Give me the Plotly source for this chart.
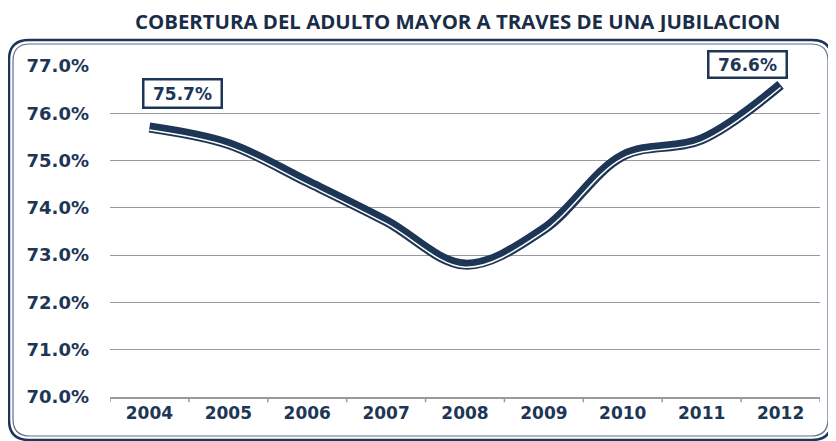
import plotly.graph_objects as go

# ---- data ----
years = ["2004", "2005", "2006", "2007", "2008", "2009", "2010", "2011", "2012"]
coverage = [75.7, 75.35, 74.55, 73.72, 72.8, 73.55, 75.1, 75.45, 76.6]
y_ticks = [70, 71, 72, 73, 74, 75, 76, 77]
title_text = "COBERTURA DEL ADULTO MAYOR A TRAVES DE UNA JUBILACION"

NAVY = "#1e3656"
OFF = 8  # page body margin in the browser
W, H = 836 - OFF, 441 - OFF
ML, MR, MT = 110 - OFF, 16, 66 - OFF
MB = H - (397 - OFF)
PW, PH = W - ML - MR, H - MT - MB

def px(x):  # screen pixel -> paper
    return (x - OFF - ML) / PW

def py(y):
    return (H - MB - (y - OFF)) / PH

def rrect(x0, y0, x1, y1, r):
    return (f"M {px(x0+r)} {py(y0)} L {px(x1-r)} {py(y0)} "
            f"Q {px(x1)} {py(y0)} {px(x1)} {py(y0+r)} "
            f"L {px(x1)} {py(y1-r)} Q {px(x1)} {py(y1)} {px(x1-r)} {py(y1)} "
            f"L {px(x0+r)} {py(y1)} Q {px(x0)} {py(y1)} {px(x0)} {py(y1-r)} "
            f"L {px(x0)} {py(y0+r)} Q {px(x0)} {py(y0)} {px(x0+r)} {py(y0)} Z")

idx = list(range(len(years)))
LBL = dict(size=17, color=NAVY, family="DejaVu Sans")
YLBL = dict(size=18, color=NAVY, family="DejaVu Sans")

fig = go.Figure()
fig.add_trace(go.Scatter(
    x=idx, y=coverage, mode="lines",
    line=dict(color=NAVY, width=10, shape="spline", smoothing=1.0),
    hoverinfo="skip", showlegend=False))
# thin white highlight, drawn on an offset axis for the embossed look
fig.add_trace(go.Scatter(
    x=idx, y=coverage, mode="lines", yaxis="y2",
    line=dict(color="white", width=1.5, shape="spline", smoothing=1.0),
    hoverinfo="skip", showlegend=False))

fig.update_layout(
    width=W, height=H,
    margin=dict(l=ML, r=MR, t=MT, b=MB),
    paper_bgcolor="white", plot_bgcolor="white",
    font=dict(family="DejaVu Sans", color=NAVY),
    xaxis=dict(showgrid=False, showline=True, linecolor="#9a9a9a",
               linewidth=1.5, ticks="", tickvals=idx,
               ticktext=["<b>" + y + "</b>" for y in years],
               tickfont=LBL, range=[-0.5, 8.5], zeroline=False),
    yaxis=dict(range=[70, 77], tickvals=y_ticks,
               ticktext=[f"<b>{v:.1f}%</b>" for v in y_ticks],
               showgrid=True, gridcolor="#9a9a9a", gridwidth=1.2, zeroline=False,
               showline=False, ticks="", ticklabelstandoff=20, tickfont=YLBL),
    yaxis2=dict(range=[70.055, 77.055], overlaying="y", visible=False),
    shapes=[
        dict(type="path", xref="paper", yref="paper",
             path=rrect(9, 40, 832, 440, 20), line=dict(color=NAVY, width=2.5)),
        dict(type="path", xref="paper", yref="paper",
             path=rrect(13, 44, 828, 436, 17), line=dict(color="#5b708c", width=1.2)),
    ] + [
        dict(type="line", xref="x", yref="paper", x0=b, x1=b, y0=0, y1=-0.016,
             line=dict(color="#9a9a9a", width=1.5))
        for b in [i - 0.5 for i in idx] + [len(idx) - 0.5]
    ],
    annotations=[
        dict(x=px(457.5), y=py(20.5), xref="paper", yref="paper", xanchor="center",
             yanchor="middle", showarrow=False, text="<b>" + title_text + "</b>",
             height=22, valign="middle", borderpad=0,
             font=dict(family="Open Sans", size=20.4, color="#1a2d48")),
        dict(x=idx[0], y=coverage[0], xref="x", yref="y", text="<b>75.7%</b>",
             showarrow=False, xshift=33, yshift=34, bordercolor=NAVY, borderwidth=2.5,
             borderpad=2, width=72, height=22, font=LBL),
        dict(x=idx[-1], y=coverage[-1], xref="x", yref="y", text="<b>76.6%</b>",
             showarrow=False, xshift=-33, yshift=20, bordercolor=NAVY, borderwidth=2.5,
             borderpad=2, width=72, height=20, font=LBL),
    ],
)

fig.write_html("out.html")
